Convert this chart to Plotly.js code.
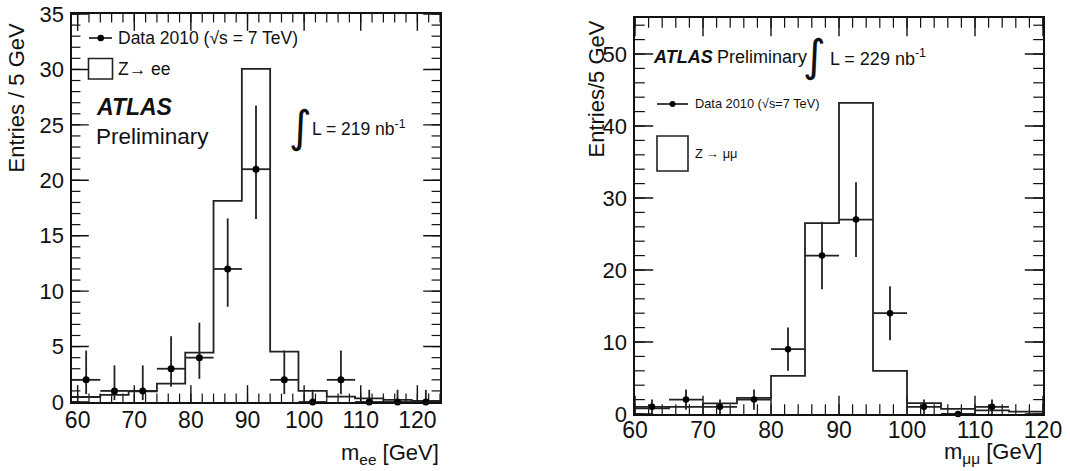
<!DOCTYPE html>
<html>
<head>
<meta charset="utf-8">
<script src="https://cdn.plot.ly/plotly-3.0.1.min.js"></script>
<style>html,body{margin:0;padding:0;background:#fff;}#chart{width:1070px;height:471px;}</style>
</head>
<body>
<div id="chart"></div>
<script>
// ---------- Z -> ee (left panel) ----------
const eeEdges   = [59, 64, 69, 74, 79, 84, 89, 94, 99, 104, 109, 114, 119, 124];
const eeMC      = [0.45, 0.65, 0.95, 1.65, 4.45, 18.15, 30.05, 4.55, 1.0, 0.48, 0.33, 0.2, 0.1];
const eeCenters = [61.5, 66.5, 71.5, 76.5, 81.5, 86.5, 91.5, 96.5, 101.5, 106.5, 111.5, 116.5, 121.5];
const eeData    = [2, 1, 1, 3, 4, 12, 21, 2, 0, 2, 0, 0, 0];
const eeErrUp   = [2.64, 2.30, 2.30, 2.92, 3.16, 4.56, 5.75, 2.64, 1.1, 2.64, 1.1, 1.1, 1.1];
const eeErrDown = [1.29, 0.83, 0.83, 1.63, 1.91, 3.41, 4.50, 1.29, 0, 1.29, 0, 0, 0];
const eeHalfBin = 2.5;
const eeXMajor  = [60, 70, 80, 90, 100, 110, 120];
const eeYMajor  = [0, 5, 10, 15, 20, 25, 30, 35];

// ---------- Z -> mumu (right panel) ----------
const mmEdges   = [60, 65, 70, 75, 80, 85, 90, 95, 100, 105, 110, 115, 120];
const mmMC      = [0.78, 1.0, 1.47, 2.25, 5.3, 26.5, 43.2, 6.0, 1.5, 0.7, 0.5, 0.32];
const mmCenters = [62.5, 67.5, 72.5, 77.5, 82.5, 87.5, 92.5, 97.5, 102.5, 107.5, 112.5, 117.5];
const mmData    = [1, 2, 1, 2, 9, 22, 27, 14, 1, 0, 1, null];
const mmErr     = [1, 1.41, 1, 1.41, 3, 4.69, 5.2, 3.74, 1, 0, 1, null];
const mmHalfBin = 2.5;
const mmXMajor  = [60, 70, 80, 90, 100, 110, 120];
const mmYMajor  = [0, 10, 20, 30, 40, 50];

const FONT = 'Liberation Sans, Arial, Helvetica, sans-serif';
const INK = '#111';

function seq(a, b, s) { const r = []; for (let v = a; v <= b + 1e-9; v += s) r.push(v); return r; }

function stepTrace(edges, vals, xa, ya) {
  return {
    type: 'scatter', mode: 'lines', xaxis: xa, yaxis: ya,
    x: edges, y: vals.concat([vals[vals.length - 1]]),
    line: {shape: 'hv', color: '#222', width: 1.8},
    hoverinfo: 'skip', showlegend: false
  };
}
function dataTrace(xs, ys, up, down, half, xa, ya, msize) {
  return {
    type: 'scatter', mode: 'markers', xaxis: xa, yaxis: ya,
    x: xs, y: ys, cliponaxis: false,
    marker: {color: '#000', size: msize, symbol: 'circle'},
    error_y: {type: 'data', symmetric: false, array: up, arrayminus: down, width: 0, thickness: 1.8, color: '#222'},
    error_x: {type: 'constant', value: half, width: 0, thickness: 1.8, color: '#222'},
    showlegend: false
  };
}
// ROOT-style inside tick marks: line markers on the frame, half clipped away by the plot area.
function tickTraces(xa, ya, xr, yr, xMaj, xMin, yMaj, yMin, majLen, minLen) {
  const mk = (xs, ys, sym, len, w) => ({
    type: 'scatter', mode: 'markers', xaxis: xa, yaxis: ya, x: xs, y: ys, cliponaxis: true,
    hoverinfo: 'skip', showlegend: false,
    marker: {symbol: sym, size: 2 * len, color: INK, line: {width: w, color: INK}}
  });
  const dup = (arr, v) => arr.map(() => v);
  return [
    mk(xMaj.concat(xMaj), dup(xMaj, yr[0]).concat(dup(xMaj, yr[1])), 'line-ns-open', majLen, 1.4),
    mk(xMin.concat(xMin), dup(xMin, yr[0]).concat(dup(xMin, yr[1])), 'line-ns-open', minLen, 1.2),
    mk(dup(yMaj, xr[0]).concat(dup(yMaj, xr[1])), yMaj.concat(yMaj), 'line-ew-open', majLen, 1.4),
    mk(dup(yMin, xr[0]).concat(dup(yMin, xr[1])), yMin.concat(yMin), 'line-ew-open', minLen, 1.2)
  ];
}

const eeXRange = [59, 124], eeYRange = [0, 35];
const mmXRange = [60, 120], mmYRange = [0, 55];

const traces = [].concat(
  tickTraces('x', 'y', eeXRange, eeYRange, eeXMajor, seq(60, 124, 2), eeYMajor, seq(0, 35, 1), 12, 6),
  [stepTrace(eeEdges, eeMC, 'x', 'y'),
   dataTrace(eeCenters, eeData, eeErrUp, eeErrDown, eeHalfBin, 'x', 'y', 7)],
  tickTraces('x2', 'y2', mmXRange, mmYRange, mmXMajor, seq(60, 120, 2), mmYMajor, seq(0, 55, 2), 13, 7),
  [stepTrace(mmEdges, mmMC, 'x2', 'y2'),
   dataTrace(mmCenters, mmData, mmErr, mmErr, mmHalfBin, 'x2', 'y2', 6.5)]
);

const W = 1070, H = 471;
const px = v => v / W;
const py = v => 1 - v / H;

function axisBase(extra) {
  return Object.assign({
    showgrid: false, zeroline: false,
    showline: true, linecolor: INK, linewidth: 1.6, mirror: true,
    ticks: '', tickfont: {family: FONT, size: 23, color: INK},
    ticklabelstandoff: -3,
    fixedrange: true
  }, extra);
}

function sh(o) { return Object.assign({xref: 'paper', yref: 'paper', layer: 'below'}, o); }

const layout = {
  width: W, height: H,
  margin: {l: 0, r: 0, t: 0, b: 0},
  paper_bgcolor: '#fff', plot_bgcolor: 'rgba(0,0,0,0)',
  showlegend: false,
  xaxis: axisBase({domain: [px(72), px(440)], range: eeXRange, tickvals: eeXMajor, anchor: 'y'}),
  yaxis: axisBase({domain: [py(402), py(14)], range: eeYRange, tickvals: eeYMajor, anchor: 'x',
    tickfont: {family: FONT, size: 22, color: INK}, ticklabelstandoff: 2}),
  xaxis2: axisBase({domain: [px(635), px(1043)], range: mmXRange, tickvals: mmXMajor, anchor: 'y2',
    ticklabelstandoff: -5}),
  yaxis2: axisBase({domain: [py(414), py(18)], range: mmYRange, tickvals: mmYMajor, anchor: 'x2',
    tickfont: {family: FONT, size: 22, color: INK}, ticklabelstandoff: 2}),
  shapes: [
    // left legend symbols
    sh({type: 'line', x0: px(89), x1: px(112), y0: py(38), y1: py(38), line: {color: INK, width: 1.6}}),
    sh({type: 'circle', x0: px(97.5), x1: px(104), y0: py(41.3), y1: py(34.7), fillcolor: '#000', line: {color: '#000', width: 0}}),
    sh({type: 'rect', x0: px(88.5), x1: px(112.5), y0: py(79), y1: py(58.5), line: {color: '#222', width: 1.6}}),
    // right legend symbols
    sh({type: 'line', x0: px(657), x1: px(688), y0: py(104), y1: py(104), line: {color: INK, width: 1.6}}),
    sh({type: 'circle', x0: px(669.5), x1: px(675.5), y0: py(107), y1: py(101), fillcolor: '#000', line: {color: '#000', width: 0}}),
    sh({type: 'rect', x0: px(657), x1: px(688), y0: py(171), y1: py(136), line: {color: '#222', width: 1.6}})
  ],
  annotations: [
    // axis titles
    {text: 'Entries / 5 GeV', xref: 'paper', yref: 'paper', x: px(15.5), y: py(21), xanchor: 'center', yanchor: 'top', textangle: -90, showarrow: false, font: {family: FONT, size: 22, color: INK}},
    {text: 'm<sub>ee</sub> [GeV]', xref: 'paper', yref: 'paper', x: px(441), y: py(454), xanchor: 'right', yanchor: 'middle', showarrow: false, font: {family: FONT, size: 22, color: INK}},
    {text: 'Entries/5 GeV', xref: 'paper', yref: 'paper', x: px(596), y: py(19), xanchor: 'center', yanchor: 'top', textangle: -90, showarrow: false, font: {family: FONT, size: 22, color: INK}},
    {text: 'm<sub>μμ</sub> [GeV]', xref: 'paper', yref: 'paper', x: px(1044), y: py(453), xanchor: 'right', yanchor: 'middle', showarrow: false, font: {family: FONT, size: 22, color: INK}},
    // left panel texts
    {text: 'Data 2010 (√s = 7 TeV)', xref: 'paper', yref: 'paper', x: px(116), y: py(38), xanchor: 'left', yanchor: 'middle', showarrow: false, font: {family: FONT, size: 17.5, color: INK}},
    {text: 'Z→ ee', xref: 'paper', yref: 'paper', x: px(116), y: py(69), xanchor: 'left', yanchor: 'middle', showarrow: false, font: {family: FONT, size: 17.5, color: INK}},
    {text: '<b><i>ATLAS</i></b>', xref: 'paper', yref: 'paper', x: px(94), y: py(107), xanchor: 'left', yanchor: 'middle', showarrow: false, font: {family: FONT, size: 23, color: INK}},
    {text: 'Preliminary', xref: 'paper', yref: 'paper', x: px(94), y: py(137), xanchor: 'left', yanchor: 'middle', showarrow: false, font: {family: FONT, size: 22.5, color: INK}},
    {text: '∫', xref: 'paper', yref: 'paper', x: px(300), y: py(127), xanchor: 'center', yanchor: 'middle', showarrow: false, font: {family: 'DejaVu Sans, sans-serif', size: 44, color: INK}},
    {text: 'L = 219 nb<sup>-1</sup>', xref: 'paper', yref: 'paper', x: px(310), y: py(128), xanchor: 'left', yanchor: 'middle', showarrow: false, font: {family: FONT, size: 17.5, color: INK}},
    // right panel texts
    {text: '<b><i>ATLAS</i></b>', xref: 'paper', yref: 'paper', x: px(651), y: py(57), xanchor: 'left', yanchor: 'middle', showarrow: false, font: {family: FONT, size: 18, color: INK}},
    {text: 'Preliminary', xref: 'paper', yref: 'paper', x: px(715), y: py(57), xanchor: 'left', yanchor: 'middle', showarrow: false, font: {family: FONT, size: 18, color: INK}},
    {text: '∫', xref: 'paper', yref: 'paper', x: px(814), y: py(56), xanchor: 'center', yanchor: 'middle', showarrow: false, font: {family: 'DejaVu Sans, sans-serif', size: 44, color: INK}},
    {text: 'L = 229 nb<sup>-1</sup>', xref: 'paper', yref: 'paper', x: px(828), y: py(58), xanchor: 'left', yanchor: 'middle', showarrow: false, font: {family: FONT, size: 18, color: INK}},
    {text: 'Data 2010 (√s=7 TeV)', xref: 'paper', yref: 'paper', x: px(693), y: py(104), xanchor: 'left', yanchor: 'middle', showarrow: false, font: {family: FONT, size: 12.8, color: INK}},
    {text: 'Z → μμ', xref: 'paper', yref: 'paper', x: px(693), y: py(154), xanchor: 'left', yanchor: 'middle', showarrow: false, font: {family: FONT, size: 12.8, color: INK}}
  ]
};

Plotly.newPlot('chart', traces, layout, {staticPlot: true, displayModeBar: false});
</script>
</body>
</html>
